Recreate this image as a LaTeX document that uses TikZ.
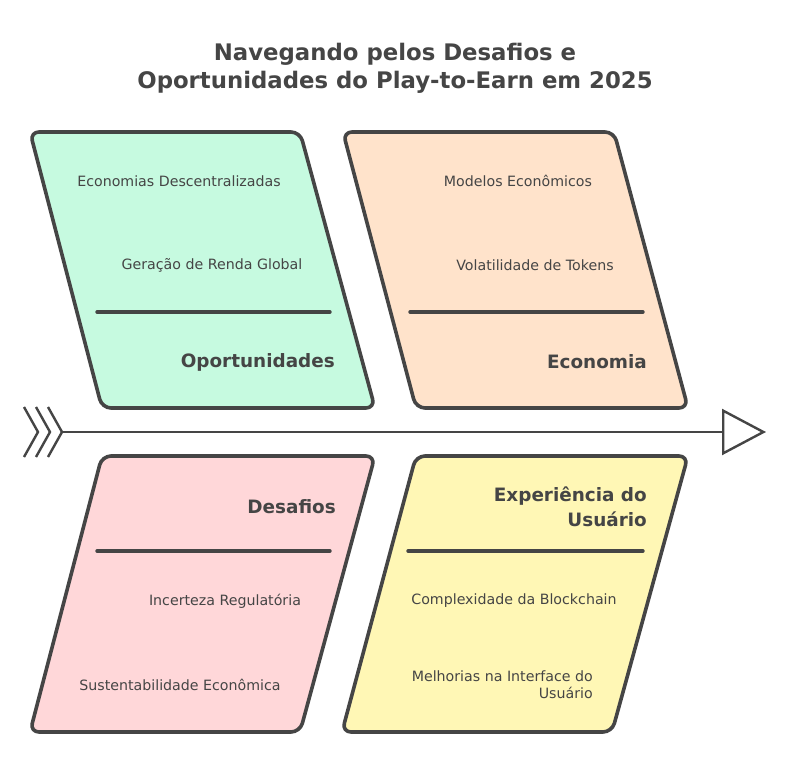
\documentclass[tikz,border=0pt]{standalone}
\usepackage{fontspec}
\setmainfont{DejaVu Sans}
\usetikzlibrary{arrows.meta}
\definecolor{ink}{HTML}{454545}
\definecolor{mint}{HTML}{C6FAE0}
\definecolor{peach}{HTML}{FFE3CB}
\definecolor{rose}{HTML}{FFD7D9}
\definecolor{butter}{HTML}{FFF7B5}
\tikzset{
  panel/.style={draw=ink, line width=3.6pt, rounded corners=9pt, line join=round},
  rule/.style={draw=ink, line width=3.4pt, line cap=round},
  item/.style={text=ink, font=\fontsize{14.2}{17}\selectfont, inner sep=0pt},
  head/.style={text=ink, font=\bfseries\fontsize{18.4}{25}\selectfont, inner sep=0pt, align=right},
}
\begin{document}
\begin{tikzpicture}[x=1pt, y=-1pt]
  \useasboundingbox[fill=white] (0,0) rectangle (790,781);
  % title
  \node[text=ink, font=\bfseries\fontsize{22.8}{28}\selectfont, align=center] (title) at (395,68)
    {Navegando pelos Desafios e\\Oportunidades do Play-to-Earn em 2025};

  % Oportunidades
  \begin{scope}[local bounding box=oport]
    \filldraw[panel, fill=mint] (30,132) -- (300,132) -- (375,408) -- (102,408) -- cycle;
    \draw[rule] (97,312) -- (330,312);
    \node[item] (econdesc) at (179,181) {Economias Descentralizadas};
    \node[item] (renda) at (212,265) {Geração de Renda Global};
    \node[head, anchor=east] (oporthead) at (335,362) {Oportunidades};
  \end{scope}

  % Economia
  \begin{scope}[local bounding box=econ]
    \filldraw[panel, fill=peach] (343,132) -- (614,132) -- (688,408) -- (416,408) -- cycle;
    \draw[rule] (410,312) -- (643,312);
    \node[item] (modelos) at (518,181) {Modelos Econômicos};
    \node[item] (tokens) at (535,265) {Volatilidade de Tokens};
    \node[head, anchor=east] (econhead) at (647,362) {Economia};
  \end{scope}

  % Desafios
  \begin{scope}[local bounding box=desaf]
    \filldraw[panel, fill=rose] (102,456) -- (375,456) -- (300,732) -- (30,732) -- cycle;
    \draw[rule] (97,551) -- (330,551);
    \node[head, anchor=east] (desafhead) at (336,507) {Desafios};
    \node[item] (regul) at (225,601) {Incerteza Regulatória};
    \node[item] (sustent) at (180,685) {Sustentabilidade Econômica};
  \end{scope}

  % Experiencia do Usuario
  \begin{scope}[local bounding box=exper]
    \filldraw[panel, fill=butter] (416,456) -- (688,456) -- (612,732) -- (342,732) -- cycle;
    \draw[rule] (408,551) -- (643,551);
    \node[head, anchor=east] (experhead) at (647,507) {Experiência do\\Usuário};
    \node[item] (blockchain) at (514,601) {Complexidade da Blockchain};
    \node[item, align=right, anchor=east] (interface) at (593,685) {Melhorias na Interface do\\Usuário};
  \end{scope}

  % spine
  \coordinate (tail) at (62,432);
  \coordinate (head) at (766,432);
  \draw[ink, line width=2.6pt, -{Triangle[open, length=44pt, width=46pt, line width=2.4pt]}] (tail) -- (head);
  \foreach \d in {0,12,24}
    \draw[ink, line width=2.4pt, line join=miter] (24+\d,407) -- (38+\d,432) -- (24+\d,457);
\end{tikzpicture}
\end{document}
